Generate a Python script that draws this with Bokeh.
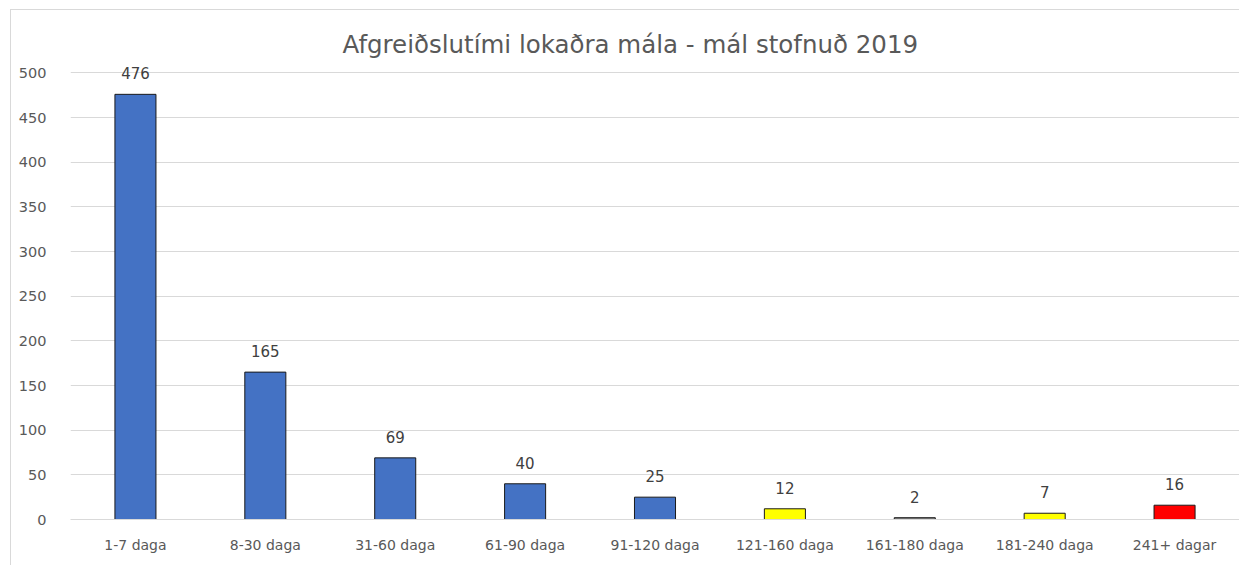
from bokeh.plotting import figure
from bokeh.models import ColumnDataSource, Range1d, FixedTicker
from bokeh.core.properties import value
from bokeh.embed import file_html
from bokeh.resources import INLINE

categories = ["1-7 daga", "8-30 daga", "31-60 daga", "61-90 daga", "91-120 daga",
              "121-160 daga", "161-180 daga", "181-240 daga", "241+ dagar"]
counts = [476, 165, 69, 40, 25, 12, 2, 7, 16]
bar_colors = ["#4472C4", "#4472C4", "#4472C4", "#4472C4", "#4472C4",
              "#FFFF00", "#7F7F7F", "#FFFF00", "#FF0000"]
y_ticks = [0, 50, 100, 150, 200, 250, 300, 350, 400, 450, 500]

FONT = "DejaVu Sans"
idx = list(range(len(categories)))
src = ColumnDataSource(dict(x=idx, y=counts, c=bar_colors, lbl=[str(v) for v in counts]))

p = figure(width=1229, height=556, output_backend="svg", toolbar_location=None,
           x_range=Range1d(-0.5, 8.5), y_range=Range1d(0, 515),
           min_border_left=59, min_border_right=1, min_border_top=49, min_border_bottom=47,
           title="Afgreiðslutími lokaðra mála - mál stofnuð 2019")
p.styles = {"border-left": "1px solid #D9D9D9", "border-top": "1px solid #D9D9D9",
            "margin-left": "10px", "margin-top": "9px"}
p.outline_line_color = None

p.title.align = "left"
p.title.offset = 272
p.title.standoff = 1
p.title.text_font = FONT
p.title.text_font_size = "24.5px"
p.title.text_font_style = "normal"
p.title.text_color = "#595959"

p.vbar(x="x", top="y", width=0.316, source=src, fill_color="c", line_color="#1a1a1a", line_width=1)
p.text(x="x", y="y", text="lbl", source=src, text_align="center", text_baseline="bottom",
       y_offset=-15, text_font=value(FONT), text_font_size="15px", text_color="#404040")

p.xgrid.grid_line_color = None
p.ygrid.grid_line_color = "#D9D9D9"
p.ygrid.ticker = FixedTicker(ticks=y_ticks)

p.yaxis.ticker = FixedTicker(ticks=y_ticks)
p.yaxis.axis_line_color = None
p.yaxis.major_tick_line_color = None
p.yaxis.minor_tick_line_color = None
p.yaxis.major_label_standoff = 18
p.yaxis.major_label_text_font = FONT
p.yaxis.major_label_text_font_size = "14.5px"
p.yaxis.major_label_text_color = "#595959"

p.xaxis.ticker = FixedTicker(ticks=idx)
p.xaxis.major_label_overrides = {i: c for i, c in enumerate(categories)}
p.xaxis.axis_line_color = "#D9D9D9"
p.xaxis.major_tick_line_color = None
p.xaxis.minor_tick_line_color = None
p.xaxis.major_label_standoff = 11
p.xaxis.major_label_text_font = FONT
p.xaxis.major_label_text_font_size = "14px"
p.xaxis.major_label_text_color = "#595959"

open("out.html", "w").write(file_html(p, INLINE))
